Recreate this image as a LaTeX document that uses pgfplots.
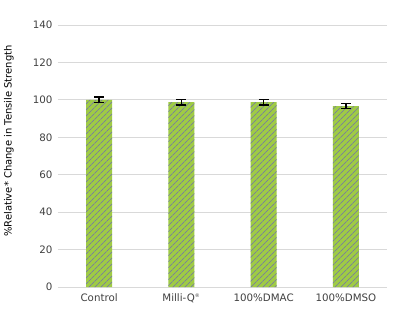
\documentclass[border=0pt]{standalone}
\usepackage{fontspec}
\setmainfont{DejaVu Sans}
\usepackage{pgfplots}
\pgfplotsset{compat=1.18}
\usetikzlibrary{patterns.meta}
\definecolor{barfill}{HTML}{9FCB45}
\definecolor{hatch}{HTML}{7070B0}
\definecolor{gridgrey}{HTML}{D9D9D9}
\definecolor{labelgrey}{HTML}{404040}
\begin{document}
\begin{tikzpicture}[x=1bp,y=1bp]
\useasboundingbox (0,0) rectangle (400,310);
\begin{axis}[
  at={(58bp,23bp)}, anchor=south west,
  scale only axis, width=329bp, height=262bp,
  xmin=-0.5, xmax=3.5, ymin=0, ymax=140,
  ytick={0,20,...,140},
  xtick={0,1,2,3},
  xticklabels={Control, Milli-Q\textsuperscript{\tiny\textregistered}, 100\%DMAC, 100\%DMSO},
  axis x line*=bottom, axis y line*=left,
  x axis line style={gridgrey, line width=0.8pt},
  y axis line style={draw=none},
  ymajorgrids, grid style={gridgrey, line width=0.8pt},
  major tick length=0pt,
  tick label style={font=\fontsize{10.3}{12}\selectfont, text=labelgrey},
  yticklabel style={xshift=-2bp},
  xticklabel style={yshift=-3bp},
  ylabel={\%Relative* Change in Tensile Strength},
  ylabel style={font=\fontsize{10.6}{12}\selectfont, text=labelgrey},
  every axis y label/.style={at={(-49bp,146bp)}, rotate=90, anchor=center},
  /pgf/number format/assume math mode=true,
  clip=false,
]
\addplot[
  ybar, bar width=26bp, draw=none, fill=barfill,
  postaction={pattern={Lines[angle=45, distance=4.2426bp, line width=0.7bp]}, pattern color=hatch},
  error bars/.cd, y dir=both, y explicit,
  error bar style={black, line width=1.3pt},
  error mark options={black, line width=1.3pt, mark size=5bp, rotate=90},
] coordinates {
  (0,100.0) +- (0,1.5)
  (1,98.8) +- (0,1.5)
  (2,98.8) +- (0,1.5)
  (3,96.6) +- (0,1.4)
};
\end{axis}
\end{tikzpicture}
\end{document}
